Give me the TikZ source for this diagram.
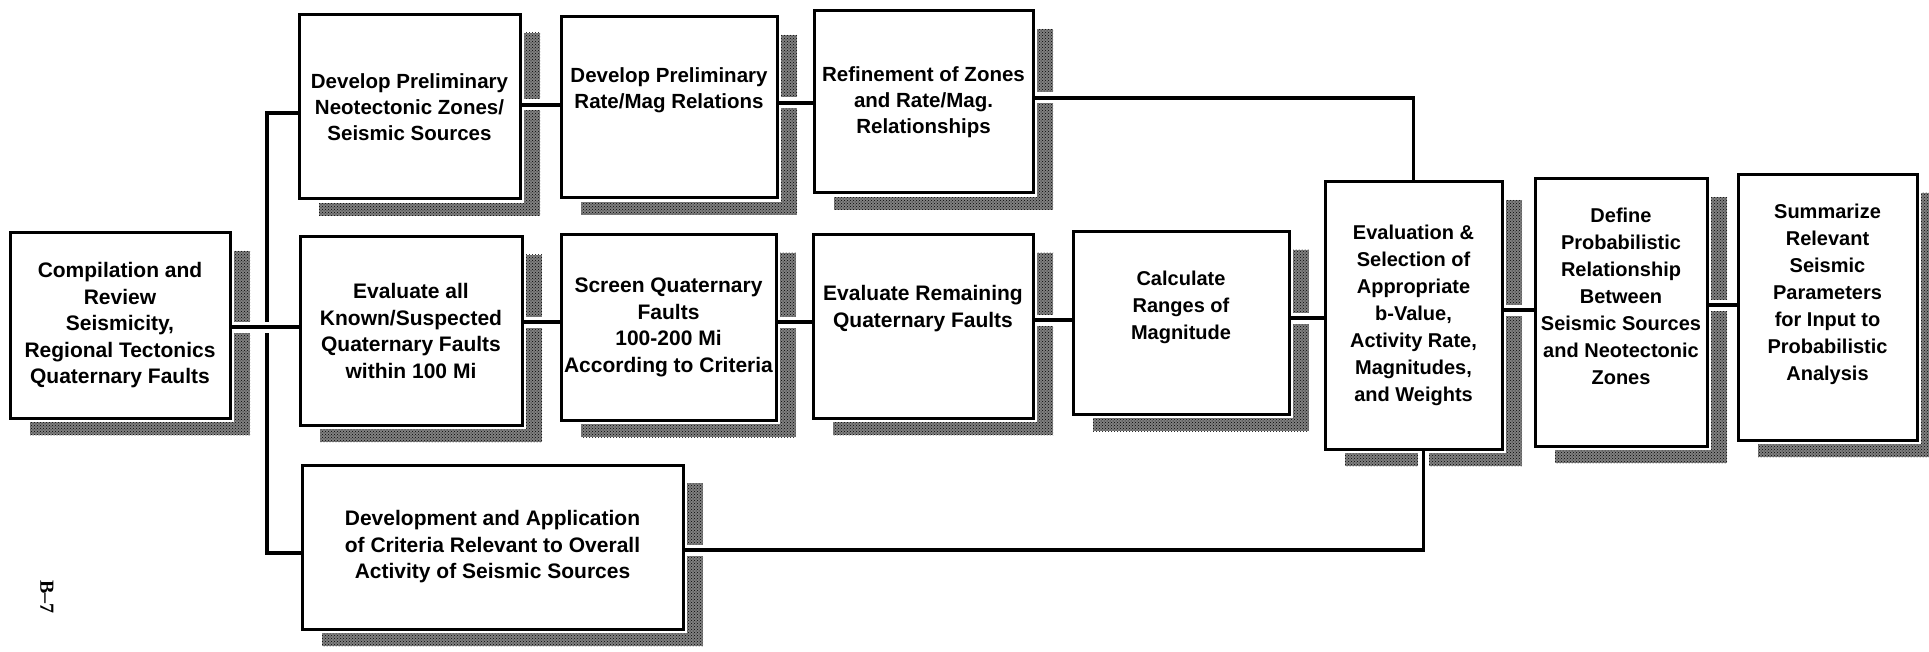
\documentclass[tikz,border=0pt]{standalone}
\usepackage{fontspec}
\setmainfont{Liberation Sans}
\newfontfamily\serifbold{Liberation Serif}
\usetikzlibrary{patterns,calc}
\pgfdeclarelayer{background}
\pgfdeclarelayer{mid}
\pgfsetlayers{background,mid,main}
\newcommand\mkbox[6]{\node[box, minimum width={#4-#2}, minimum height={#5-#3}] (#1) at ({(#2+#4)/2},{(#3+#5)/2}) {#6};}
\begin{document}
\begin{tikzpicture}[x=1pt,y=-1pt,
  box/.style={draw=black, line width=3pt, fill=white, inner sep=0pt, outer sep=0pt, align=center,
    font=\bfseries\fontsize{21}{26.5}\selectfont},
  mid/.style={font=\bfseries\fontsize{20.5}{26}\selectfont},
  tall/.style={font=\bfseries\fontsize{20}{27}\selectfont},
  conn/.style={line width=3.5pt, preaction={draw=white, line width=11pt}},
  shadowfill/.style={fill=black!50, postaction={pattern=crosshatch dots, pattern color=black}},
]
\useasboundingbox (0,0) rectangle (1929,652);

\mkbox{n1}{10}{233}{230}{418}{Compilation and\\Review\\Seismicity,\\Regional Tectonics\\Quaternary Faults}
\node[box, mid, minimum width=221, minimum height=184] (n2) at (409.5,107) {Develop Preliminary\\Neotectonic Zones/\\Seismic Sources};
\node[box, mid, minimum width=216, minimum height=181] (n3) at (669,107.5) {Develop Preliminary\\Rate/Mag Relations\\[12pt]};
\node[box, mid, minimum width=219, minimum height=182] (n4) at (923.5,102) {Refinement of Zones\\and Rate/Mag.\\Relationships};
\mkbox{n5}{300}{237}{522}{425}{Evaluate all\\Known/Suspected\\Quaternary Faults\\within 100 Mi}
\mkbox{n6}{561}{235}{776}{420}{Screen Quaternary\\Faults\\100-200 Mi\\According to Criteria}
\mkbox{n7}{813}{235}{1033}{418}{Evaluate Remaining\\Quaternary Faults\\[14pt]}
\node[box, tall, minimum width=216, minimum height=182] (n8) at (1181,323) {Calculate\\Ranges of\\Magnitude\\[8pt]};
\node[box, tall, minimum width=177, minimum height=267] (n9) at (1413.5,315.5) {Evaluation \&\\Selection of\\Appropriate\\b-Value,\\Activity Rate,\\Magnitudes,\\and Weights};
\node[box, tall, minimum width=172, minimum height=267] (n10) at (1621,312.5) {Define\\Probabilistic\\Relationship\\Between\\Seismic Sources\\and Neotectonic\\Zones\\[6pt]};
\node[box, tall, minimum width=179, minimum height=265] (n11) at (1827.5,307.5) {Summarize\\Relevant\\Seismic\\Parameters\\for Input to\\Probabilistic\\Analysis\\[4pt]};
\mkbox{n12}{302}{465}{683}{629}{Development and Application\\of Criteria Relevant to Overall\\Activity of Seismic Sources}

\node[rotate=-90, font=\serifbold\bfseries\fontsize{20}{24}\selectfont, inner sep=0pt] (pg) at (47,597) {B–7};

\begin{pgfonlayer}{background}
\foreach \nm in {n1,n2,n3,n4,n5,n6,n7,n8,n9,n10,n11,n12} {
  \path[shadowfill] ($(\nm.north west)+(20,18)$) rectangle ($(\nm.south east)+(20,17)$);
}
\foreach \nm in {n1,n2,n3,n4,n5,n6,n7,n8,n9,n10,n11,n12} {
  \fill[white] ($(\nm.north west)+(-4,-4)$) rectangle ($(\nm.south east)+(4,4)$);
}
\end{pgfonlayer}

\begin{pgfonlayer}{mid}
\coordinate (bus) at (267,327);
\draw[conn] (n2.west |- 0,113) -| (bus) |- (n12.west |- 0,553);
\draw[conn] (n1.east |- bus) -- (n5.west |- bus);
\draw[conn] (n2.east |- 0,105) -- (n3.west |- 0,105);
\draw[conn] (n3.east |- 0,103) -- (n4.west |- 0,103);
\draw[conn] (n4.east |- 0,98) -| (n9.north);
\draw[conn] (n5.east |- 0,322) -- (n6.west |- 0,322);
\draw[conn] (n6.east |- 0,322) -- (n7.west |- 0,322);
\draw[conn] (n7.east |- 0,320) -- (n8.west |- 0,320);
\draw[conn] (n8.east |- 0,318) -- (n9.west |- 0,318);
\draw[conn] (n9.east |- 0,310) -- (n10.west |- 0,310);
\draw[conn] (n10.east |- 0,305) -- (n11.west |- 0,305);
\draw[conn] (n12.east |- 0,550) -| ([xshift=10pt]n9.south);
\end{pgfonlayer}
\end{tikzpicture}
\end{document}
